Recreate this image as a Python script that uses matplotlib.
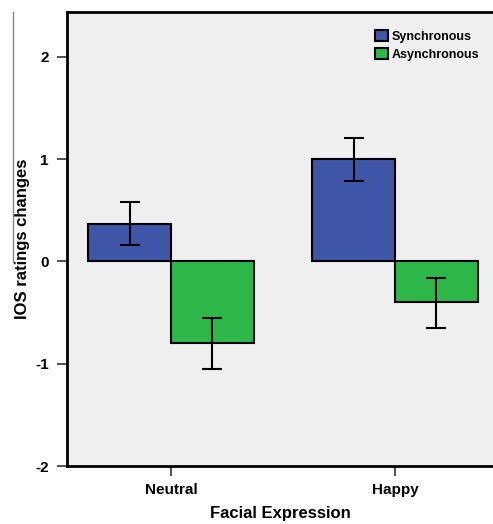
import numpy as np
import matplotlib.pyplot as plt
from matplotlib.lines import Line2D

plt.rcParams['font.family'] = ['Liberation Sans', 'DejaVu Sans']

# data
categories = ['Neutral', 'Happy']
sync_means = [0.37, 1.00]
sync_low = [0.16, 0.79]
sync_high = [0.58, 1.21]
async_means = [-0.80, -0.40]
async_low = [-1.05, -0.65]
async_high = [-0.55, -0.16]

blue = '#3F56A9'
green = '#2EB84A'

fig = plt.figure(figsize=(4.93, 5.24), dpi=100)
ax = fig.add_axes([67/493, 1-466/524, 1-67/493, (466-12)/524])
ax.set_facecolor('#EFEFEF')

x = np.arange(len(categories))
w = 0.37

sync_err = [np.array(sync_means) - np.array(sync_low), np.array(sync_high) - np.array(sync_means)]
async_err = [np.array(async_means) - np.array(async_low), np.array(async_high) - np.array(async_means)]

ax.bar(x - w/2, sync_means, w, color=blue, edgecolor='black', linewidth=1.5, label='Synchronous', zorder=2)
ax.bar(x + w/2, async_means, w, color=green, edgecolor='black', linewidth=1.5, label='Asynchronous', zorder=2)
ax.errorbar(x - w/2, sync_means, yerr=sync_err, fmt='none', ecolor='black', elinewidth=1.5, capsize=7, capthick=1.5, zorder=3)
ax.errorbar(x + w/2, async_means, yerr=async_err, fmt='none', ecolor='black', elinewidth=1.5, capsize=7, capthick=1.5, zorder=3)

ax.set_xlim(-0.464, 1.4375)
ax.set_ylim(-2, 2.44)
ax.set_yticks([-2, -1, 0, 1, 2])
ax.set_yticklabels(['-2', '-1', '0', '1', '2'], fontsize=11, fontweight='bold')
ax.set_xticks(x)
ax.set_xticklabels(categories, fontsize=11, fontweight='bold')
ax.tick_params(axis='y', length=7, width=1.2, color='#333333', direction='out', pad=6)
ax.tick_params(axis='x', length=7, width=1.2, color='#333333', direction='out', pad=5)

for s in ['left', 'bottom', 'top']:
    ax.spines[s].set_linewidth(2)
    ax.spines[s].set_color('black')
ax.spines['right'].set_visible(False)

ax.set_xlabel('Facial Expression', fontsize=12, fontweight='bold', labelpad=7)
ax.set_ylabel('IOS ratings changes', fontsize=12, fontweight='bold', labelpad=4)

fig.legend(loc='upper left', bbox_to_anchor=(369/493, 1-24/524), frameon=False,
           handlelength=1.0, handleheight=1.0, handletextpad=0.3, labelspacing=0.4,
           borderpad=0, prop={'weight': 'bold', 'size': 9})

# thin grey rule at the far left of the figure
fig.add_artist(Line2D([13/493, 13/493], [1-12/524, 1-262/524], color='#888888', linewidth=1))

fig.savefig('out.png', dpi=100)
